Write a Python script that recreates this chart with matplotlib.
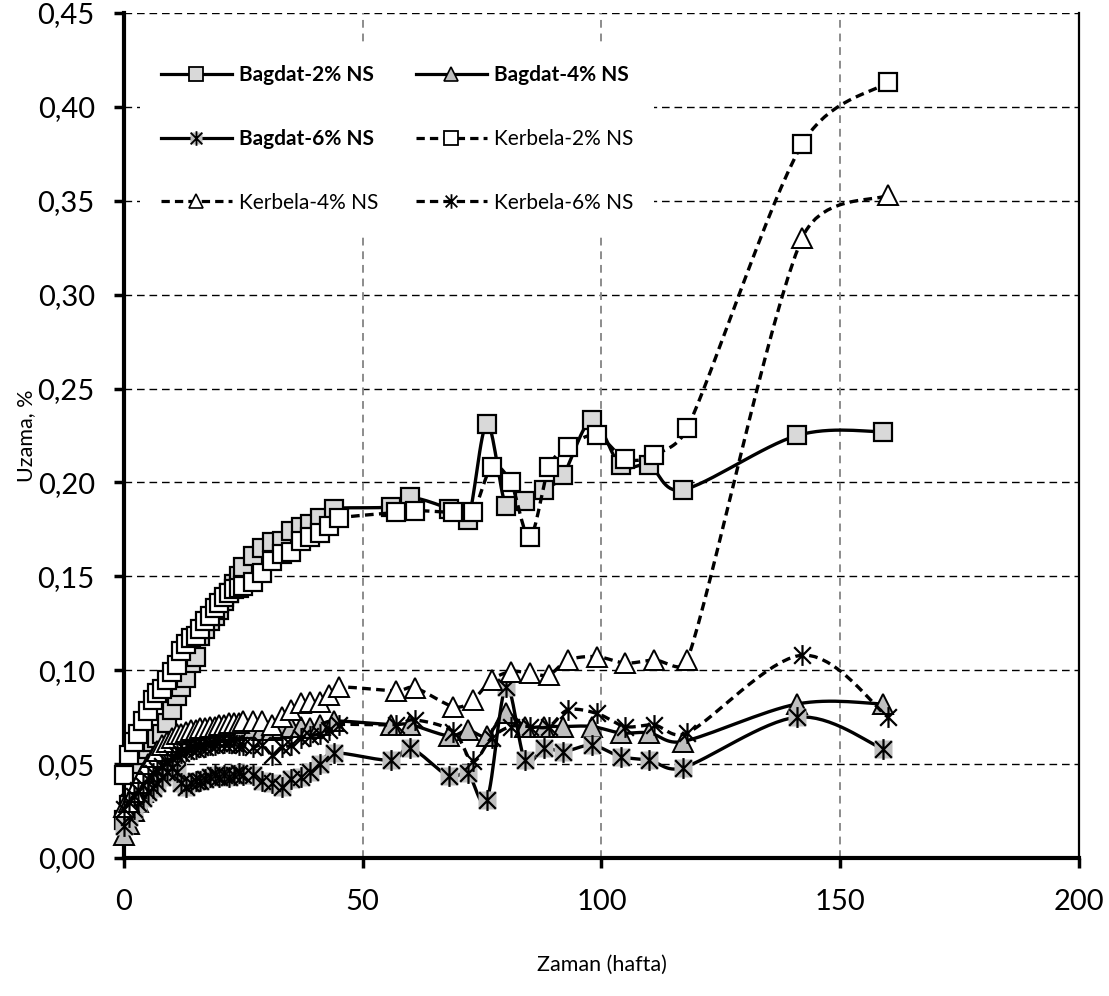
import numpy as np
import matplotlib
matplotlib.use("Agg")
import matplotlib.pyplot as plt
from matplotlib.lines import Line2D
from matplotlib.path import Path
from matplotlib.legend_handler import HandlerTuple

# weeks of measurement
x_bagdat = [0, 1, 2, 3, 4, 5, 6, 7, 8, 9, 10, 11, 12, 13, 14, 15, 16, 17, 18, 19,
            20, 21, 22, 23, 24, 25, 27, 29, 31, 33, 35, 37, 39, 41, 44,
            56, 60, 68, 72, 76, 80, 84, 88, 92, 98, 104, 110, 117, 141, 159]
x_kerbela = [0, 1, 2, 3, 4, 5, 6, 7, 8, 9, 10, 11, 12, 13, 14, 15, 16, 17, 18, 19,
             20, 21, 22, 23, 24, 25, 27, 29, 31, 33, 35, 37, 39, 41, 43, 45,
             57, 61, 69, 73, 77, 81, 85, 89, 93, 99, 105, 111, 118, 142, 160]

bagdat_2 = [0.020, 0.028, 0.045, 0.050, 0.055, 0.058, 0.062, 0.064, 0.066, 0.072,
            0.079, 0.086, 0.091, 0.096, 0.104, 0.107, 0.118, 0.122, 0.126, 0.129,
            0.132, 0.137, 0.141, 0.146, 0.150, 0.155, 0.161, 0.165, 0.168, 0.169,
            0.174, 0.176, 0.178, 0.181, 0.186,
            0.187, 0.192, 0.186, 0.180, 0.231, 0.1875, 0.190, 0.196, 0.204, 0.233,
            0.209, 0.209, 0.196, 0.225, 0.227]
bagdat_4 = [0.012, 0.018, 0.025, 0.030, 0.035, 0.040, 0.044, 0.048, 0.052, 0.056,
            0.058, 0.060, 0.062, 0.063, 0.064, 0.064, 0.065, 0.066, 0.066, 0.067,
            0.067, 0.068, 0.068, 0.068, 0.069, 0.069, 0.069, 0.068, 0.068, 0.069,
            0.070, 0.070, 0.069, 0.071, 0.073,
            0.071, 0.071, 0.065, 0.068, 0.065, 0.077, 0.070, 0.070, 0.070, 0.070,
            0.0666, 0.0666, 0.062, 0.082, 0.082]
bagdat_6 = [0.017, 0.022, 0.026, 0.029, 0.032, 0.035, 0.037, 0.040, 0.043, 0.046,
            0.048, 0.046, 0.040, 0.038, 0.040, 0.041, 0.041, 0.042, 0.043, 0.044,
            0.043, 0.044, 0.043, 0.044, 0.045, 0.044, 0.044, 0.041, 0.040, 0.038,
            0.042, 0.043, 0.046, 0.050, 0.056,
            0.052, 0.0585, 0.0435, 0.045, 0.031, 0.091, 0.052, 0.0585, 0.0566, 0.060,
            0.054, 0.052, 0.048, 0.075, 0.058]
kerbela_2 = [0.044, 0.055, 0.062, 0.066, 0.073, 0.078, 0.084, 0.088, 0.090, 0.095,
             0.099, 0.103, 0.110, 0.114, 0.117, 0.118, 0.122, 0.126, 0.129, 0.133,
             0.136, 0.139, 0.141, 0.143, 0.144, 0.145, 0.147, 0.152, 0.158, 0.162,
             0.163, 0.169, 0.171, 0.173, 0.177, 0.181,
             0.184, 0.185, 0.184, 0.184, 0.208, 0.200, 0.171, 0.208, 0.219, 0.225,
             0.2125, 0.2146, 0.229, 0.380, 0.413]
kerbela_4 = [0.027, 0.030, 0.035, 0.040, 0.045, 0.050, 0.054, 0.057, 0.060, 0.062,
             0.064, 0.066, 0.066, 0.067, 0.068, 0.068, 0.069, 0.069, 0.070, 0.070,
             0.071, 0.071, 0.072, 0.072, 0.072, 0.073, 0.073, 0.073, 0.071, 0.075,
             0.079, 0.0825, 0.083, 0.083, 0.087, 0.091,
             0.089, 0.0905, 0.0806, 0.0841, 0.0948, 0.0992, 0.0985, 0.0975, 0.1054, 0.1072,
             0.1038, 0.1054, 0.1054, 0.330, 0.353]
kerbela_6 = [0.026, 0.030, 0.033, 0.036, 0.039, 0.042, 0.045, 0.047, 0.049, 0.051,
             0.053, 0.055, 0.056, 0.057, 0.058, 0.058, 0.059, 0.059, 0.060, 0.060,
             0.061, 0.061, 0.061, 0.061, 0.060, 0.060, 0.059, 0.060, 0.055, 0.059,
             0.060, 0.064, 0.065, 0.066, 0.068, 0.071,
             0.071, 0.0735, 0.0673, 0.0515, 0.064, 0.070, 0.070, 0.070, 0.0788, 0.077,
             0.070, 0.0708, 0.0666, 0.108, 0.075]

labels = ["Bagdat-2% NS", "Bagdat-4% NS", "Bagdat-6% NS",
          "Kerbela-2% NS", "Kerbela-4% NS", "Kerbela-6% NS"]

FONT = "Lato"
plt.rcParams["font.family"] = [FONT, "DejaVu Sans"]

STAR = Path([(-1, -1), (1, 1), (-1, 1), (1, -1), (0, -1.25), (0, 1.25)],
            [Path.MOVETO, Path.LINETO, Path.MOVETO, Path.LINETO, Path.MOVETO, Path.LINETO])
GRAY_SQ = "#D9D9D9"
GRAY = "#BFBFBF"
SOLID = "-"
DASHED = (0, (2.6, 1.6))

# pixel scale of the axes, used so the smoothing behaves like on screen
SX = 955 / 200
SY = 845 / 0.45


def smooth(x, y, n=16, f=1 / 6, lim=0.5):
    # smoothed line like a spreadsheet chart: cubic Bezier, arms limited by segment length
    P = np.column_stack([np.asarray(x, float) * SX, np.asarray(y, float) * SY])
    Pp = np.vstack([P[0], P, P[-1]])
    t = np.linspace(0, 1, n + 1)[1:, None]
    out = [P[:1]]
    for i in range(len(P) - 1):
        p0, p1, p2, p3 = Pp[i], Pp[i + 1], Pp[i + 2], Pp[i + 3]
        seg = np.hypot(*(p2 - p1))
        arms = []
        for a in ((p2 - p0) * f, (p3 - p1) * f):
            L = np.hypot(*a)
            if L > lim * seg and L > 0:
                a = a * lim * seg / L
            arms.append(a)
        c1, c2 = p1 + arms[0], p2 - arms[1]
        out.append((1 - t) ** 3 * p1 + 3 * (1 - t) ** 2 * t * c1
                   + 3 * (1 - t) * t ** 2 * c2 + t ** 3 * p2)
    out = np.vstack(out)
    return out[:, 0] / SX, out[:, 1] / SY


fig = plt.figure(figsize=(11.09, 9.96), dpi=100)
ax = fig.add_axes([0.1118, 0.1386, 0.8611, 0.8484])

series = [
    (x_bagdat, bagdat_2, SOLID, dict(marker="s", ms=13, mfc=GRAY_SQ, mec="k", mew=1.6)),
    (x_bagdat, bagdat_4, SOLID, dict(marker="^", ms=14, mfc=GRAY, mec="k", mew=1.4)),
    (x_bagdat, bagdat_6, SOLID, dict(marker=STAR, ms=15, mfc="none", mec="k", mew=1.6)),
    (x_kerbela, kerbela_2, DASHED, dict(marker="s", ms=13, mfc="white", mec="k", mew=1.6)),
    (x_kerbela, kerbela_4, DASHED, dict(marker="^", ms=14, mfc="white", mec="k", mew=1.4)),
    (x_kerbela, kerbela_6, DASHED, dict(marker=STAR, ms=15, mfc="none", mec="k", mew=1.6)),
]

for i, (xs, ys, ls, mk) in enumerate(series):
    sx, sy = smooth(xs, ys)
    ax.plot(sx, sy, color="k", lw=2.4, ls=ls, zorder=3 + 3 * i, clip_on=False)
    if mk["marker"] is STAR and ls == SOLID:
        ax.plot(xs, ys, ls="none", marker="s", ms=13, mfc=GRAY, mec="none",
                zorder=4 + 3 * i, clip_on=False)
    ax.plot(xs, ys, ls="none", zorder=5 + 3 * i, clip_on=False, **mk)

ax.set_xlim(0, 200)
ax.set_ylim(0, 0.45)
ax.set_xticks([0, 50, 100, 150, 200])
ax.set_yticks(np.arange(0, 0.451, 0.05))
ax.set_yticklabels([f"{v:.2f}".replace(".", ",") for v in np.arange(0, 0.451, 0.05)])

for y in np.arange(0.05, 0.451, 0.05):
    ax.axhline(y, color="k", lw=1.0, ls=(0, (5.5, 3.5)), zorder=1)
for x in [50, 100, 150]:
    ax.axvline(x, color="#8C8C8C", lw=1.4, ls=(0, (4, 3)), zorder=1)

ax.spines["top"].set_visible(False)
ax.spines["left"].set_linewidth(3)
ax.spines["bottom"].set_linewidth(3)
ax.spines["right"].set_linewidth(1.6)
ax.tick_params(axis="both", direction="out", length=7, width=2.5, labelsize=21)
ax.tick_params(axis="x", pad=15)
ax.tick_params(axis="y", pad=14)

ax.set_xlabel("Zaman (hafta)", fontsize=15.5)
ax.set_ylabel("Uzama, %", fontsize=15.5)
ax.xaxis.set_label_coords(0.5, -0.115)
ax.yaxis.set_label_coords(-0.092, 0.5)

# legend (column-wise order to get the row layout of the original)
h_b2 = Line2D([], [], color="k", lw=2.3, ls=SOLID, marker="s", ms=10, mfc=GRAY_SQ, mec="k", mew=1.3)
h_b4 = Line2D([], [], color="k", lw=2.3, ls=SOLID, marker="^", ms=10, mfc=GRAY, mec="k", mew=1.2)
h_b6a = Line2D([], [], color="k", lw=2.3, ls=SOLID, marker="s", ms=9, mfc=GRAY, mec="none")
h_b6b = Line2D([], [], color="none", lw=0, marker=STAR, ms=10.5, mfc="none", mec="k", mew=1.3)
h_k2 = Line2D([], [], color="k", lw=2.3, ls=DASHED, marker="s", ms=10, mfc="white", mec="k", mew=1.3)
h_k4 = Line2D([], [], color="k", lw=2.3, ls=DASHED, marker="^", ms=10, mfc="white", mec="k", mew=1.2)
h_k6 = Line2D([], [], color="k", lw=2.3, ls=DASHED, marker=STAR, ms=10.5, mfc="none", mec="k", mew=1.3)

handles = [h_b2, (h_b6a, h_b6b), h_k4, h_b4, h_k2, h_k6]
names = [labels[0], labels[2], labels[4], labels[1], labels[3], labels[5]]
leg = ax.legend(handles, names, ncol=2, loc="upper left", bbox_to_anchor=(0.017, 0.963),
                fontsize=15, frameon=True, fancybox=False, edgecolor="none",
                facecolor="white", framealpha=1, handlelength=3.4, handletextpad=0.35,
                columnspacing=1.8, labelspacing=2.1, borderpad=1.0, borderaxespad=0,
                handler_map={tuple: HandlerTuple(ndivide=1, pad=0)})
leg.set_zorder(30)
for t in leg.get_texts():
    if t.get_text().startswith("Bagdat"):
        t.set_fontweight("bold")

fig.savefig("out.png", dpi=100)
